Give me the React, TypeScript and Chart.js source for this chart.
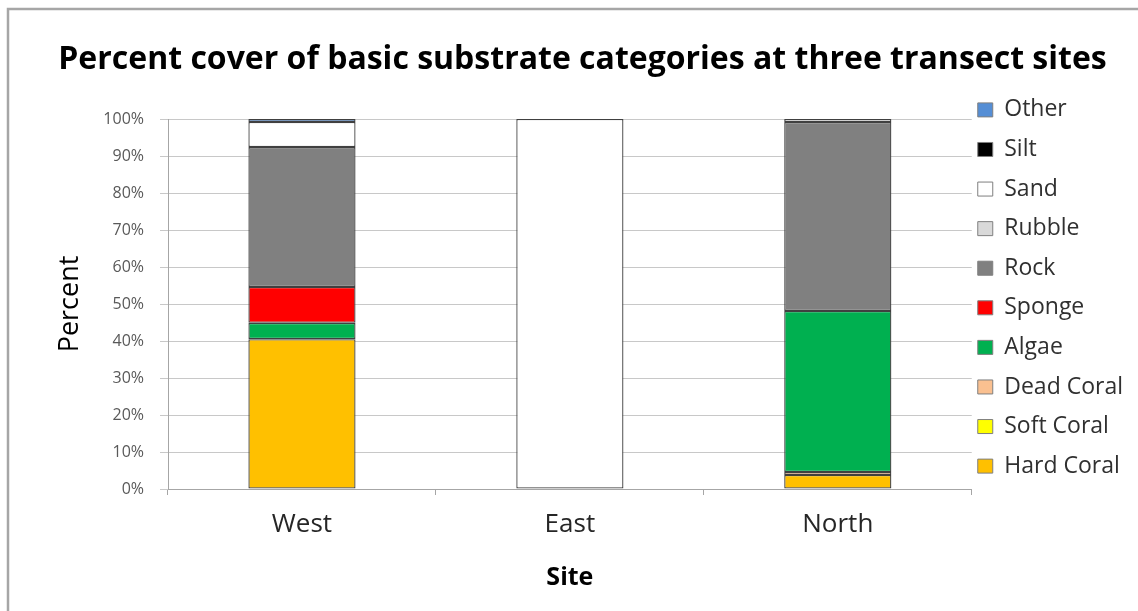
import React, { useEffect, useRef } from "react";
import { Chart, registerables } from "chart.js";

Chart.register(...registerables);

const sites = ["West", "East", "North"];
const hardCoral = [40.5, 0, 3.8];
const softCoral = [0, 0, 0];
const deadCoral = [0, 0, 0.8];
const algae = [4.4, 0, 43.5];
const sponge = [9.7, 0, 0];
const rock = [37.8, 0, 51.1];
const rubble = [0, 0, 0];
const sand = [6.8, 100, 0.8];
const silt = [0, 0, 0];
const other = [0.8, 0, 0];

const seriesNames = ["Hard Coral", "Soft Coral", "Dead Coral", "Algae", "Sponge", "Rock", "Rubble", "Sand", "Silt", "Other"];
const seriesValues = [hardCoral, softCoral, deadCoral, algae, sponge, rock, rubble, sand, silt, other];
const seriesColors = ["#FFC000", "#FFFF00", "#FAC090", "#00B050", "#FF0000", "#808080", "#D9D9D9", "#FFFFFF", "#000000", "#558ED5"];

const yTicks = [0, 10, 20, 30, 40, 50, 60, 70, 80, 90, 100];

const FONT = "'Open Sans', sans-serif";

const framePlugin = {
  id: "frame",
  beforeDraw(chart: any) {
    const { ctx, width, height } = chart;
    ctx.save();
    ctx.fillStyle = "#ffffff";
    ctx.fillRect(0, 0, width, height);
    ctx.strokeStyle = "#A6A6A6";
    ctx.lineWidth = 2.5;
    ctx.beginPath();
    ctx.moveTo(8, height);
    ctx.lineTo(8, 9);
    ctx.lineTo(width, 9);
    ctx.stroke();
    ctx.restore();
  },
};

export default function App() {
  const ref = useRef<HTMLCanvasElement | null>(null);

  useEffect(() => {
    document.body.style.margin = "0";
    const canvas = ref.current;
    if (!canvas) return;
    const chart = new Chart(canvas, {
      type: "bar",
      data: {
        labels: sites,
        datasets: seriesNames.map((name, i) => ({
          label: name,
          data: seriesValues[i],
          backgroundColor: seriesColors[i],
          borderColor: "#404040",
          borderWidth: (c: any) => (c.raw > 0 ? 1.3 : 0),
          borderSkipped: false,
          barPercentage: 0.4,
          categoryPercentage: 1,
        })),
      },
      options: {
        responsive: false,
        animation: false,
        devicePixelRatio: 1,
        layout: { padding: { left: 32, right: 5, top: 0, bottom: 0 } },
        plugins: {
          tooltip: { enabled: false },
          title: {
            display: true,
            text: "Percent cover of basic substrate categories at three transect sites",
            color: "#000000",
            font: { family: FONT, size: 32, weight: "bold", lineHeight: 1.2 },
            padding: { top: 40.8, bottom: 39.8 },
          },
          legend: {
            position: "right",
            align: "start",
            reverse: true,
            title: { display: true, text: "", font: { size: 12, lineHeight: 1.2 }, padding: 39 },
            labels: {
              color: "#303030",
              font: { family: FONT, size: 23, lineHeight: 1.46 },
              boxWidth: 15,
              boxHeight: 14,
              padding: 6,
              generateLabels: (ch: any) =>
                ch.data.datasets.map((ds: any, i: number) => ({
                  text: [ds.label],
                  fillStyle: ds.backgroundColor,
                  strokeStyle: "#7F7F7F",
                  lineWidth: 1,
                  hidden: false,
                  datasetIndex: i,
                  fontColor: "#303030",
                })),
            },
          },
        },
        scales: {
          x: {
            stacked: true,
            afterFit: (s: any) => {
              s.height = 122;
            },
            grid: { drawOnChartArea: false, drawTicks: true, tickLength: 6, color: "#A6A6A6", offset: true },
            border: { display: true, color: "#A6A6A6", width: 1 },
            ticks: { color: "#262626", font: { family: FONT, size: 26, lineHeight: 1.2 }, padding: 14 },
            title: {
              display: true,
              text: "Site",
              color: "#000000",
              font: { family: FONT, size: 25, weight: "bold", lineHeight: 1.2 },
              padding: { top: 0, bottom: 18 },
            },
          },
          y: {
            stacked: true,
            min: 0,
            max: 100,
            afterFit: (s: any) => {
              s.width = 136;
            },
            afterBuildTicks: (s: any) => {
              s.ticks = yTicks.map((v) => ({ value: v }));
            },
            grid: { color: "#C8C8C8", lineWidth: 1, tickLength: 8, drawTicks: true },
            border: { display: true, color: "#A6A6A6", width: 1 },
            ticks: {
              color: "#595959",
              font: { family: FONT, size: 16 },
              padding: 16,
              callback: (v: any) => v + "%",
            },
            title: {
              display: true,
              text: "Percent",
              color: "#000000",
              font: { family: FONT, size: 27, lineHeight: 1.2 },
              padding: { top: 21.8, bottom: 0 },
            },
          },
        },
      },
      plugins: [framePlugin],
    } as any);
    return () => chart.destroy();
  }, []);

  return (
    <div style={{ width: 1138, height: 611, position: "relative" }}>
      <canvas ref={ref} width={1138} height={611} style={{ width: 1138, height: 611, display: "block" }} />
    </div>
  );
}
